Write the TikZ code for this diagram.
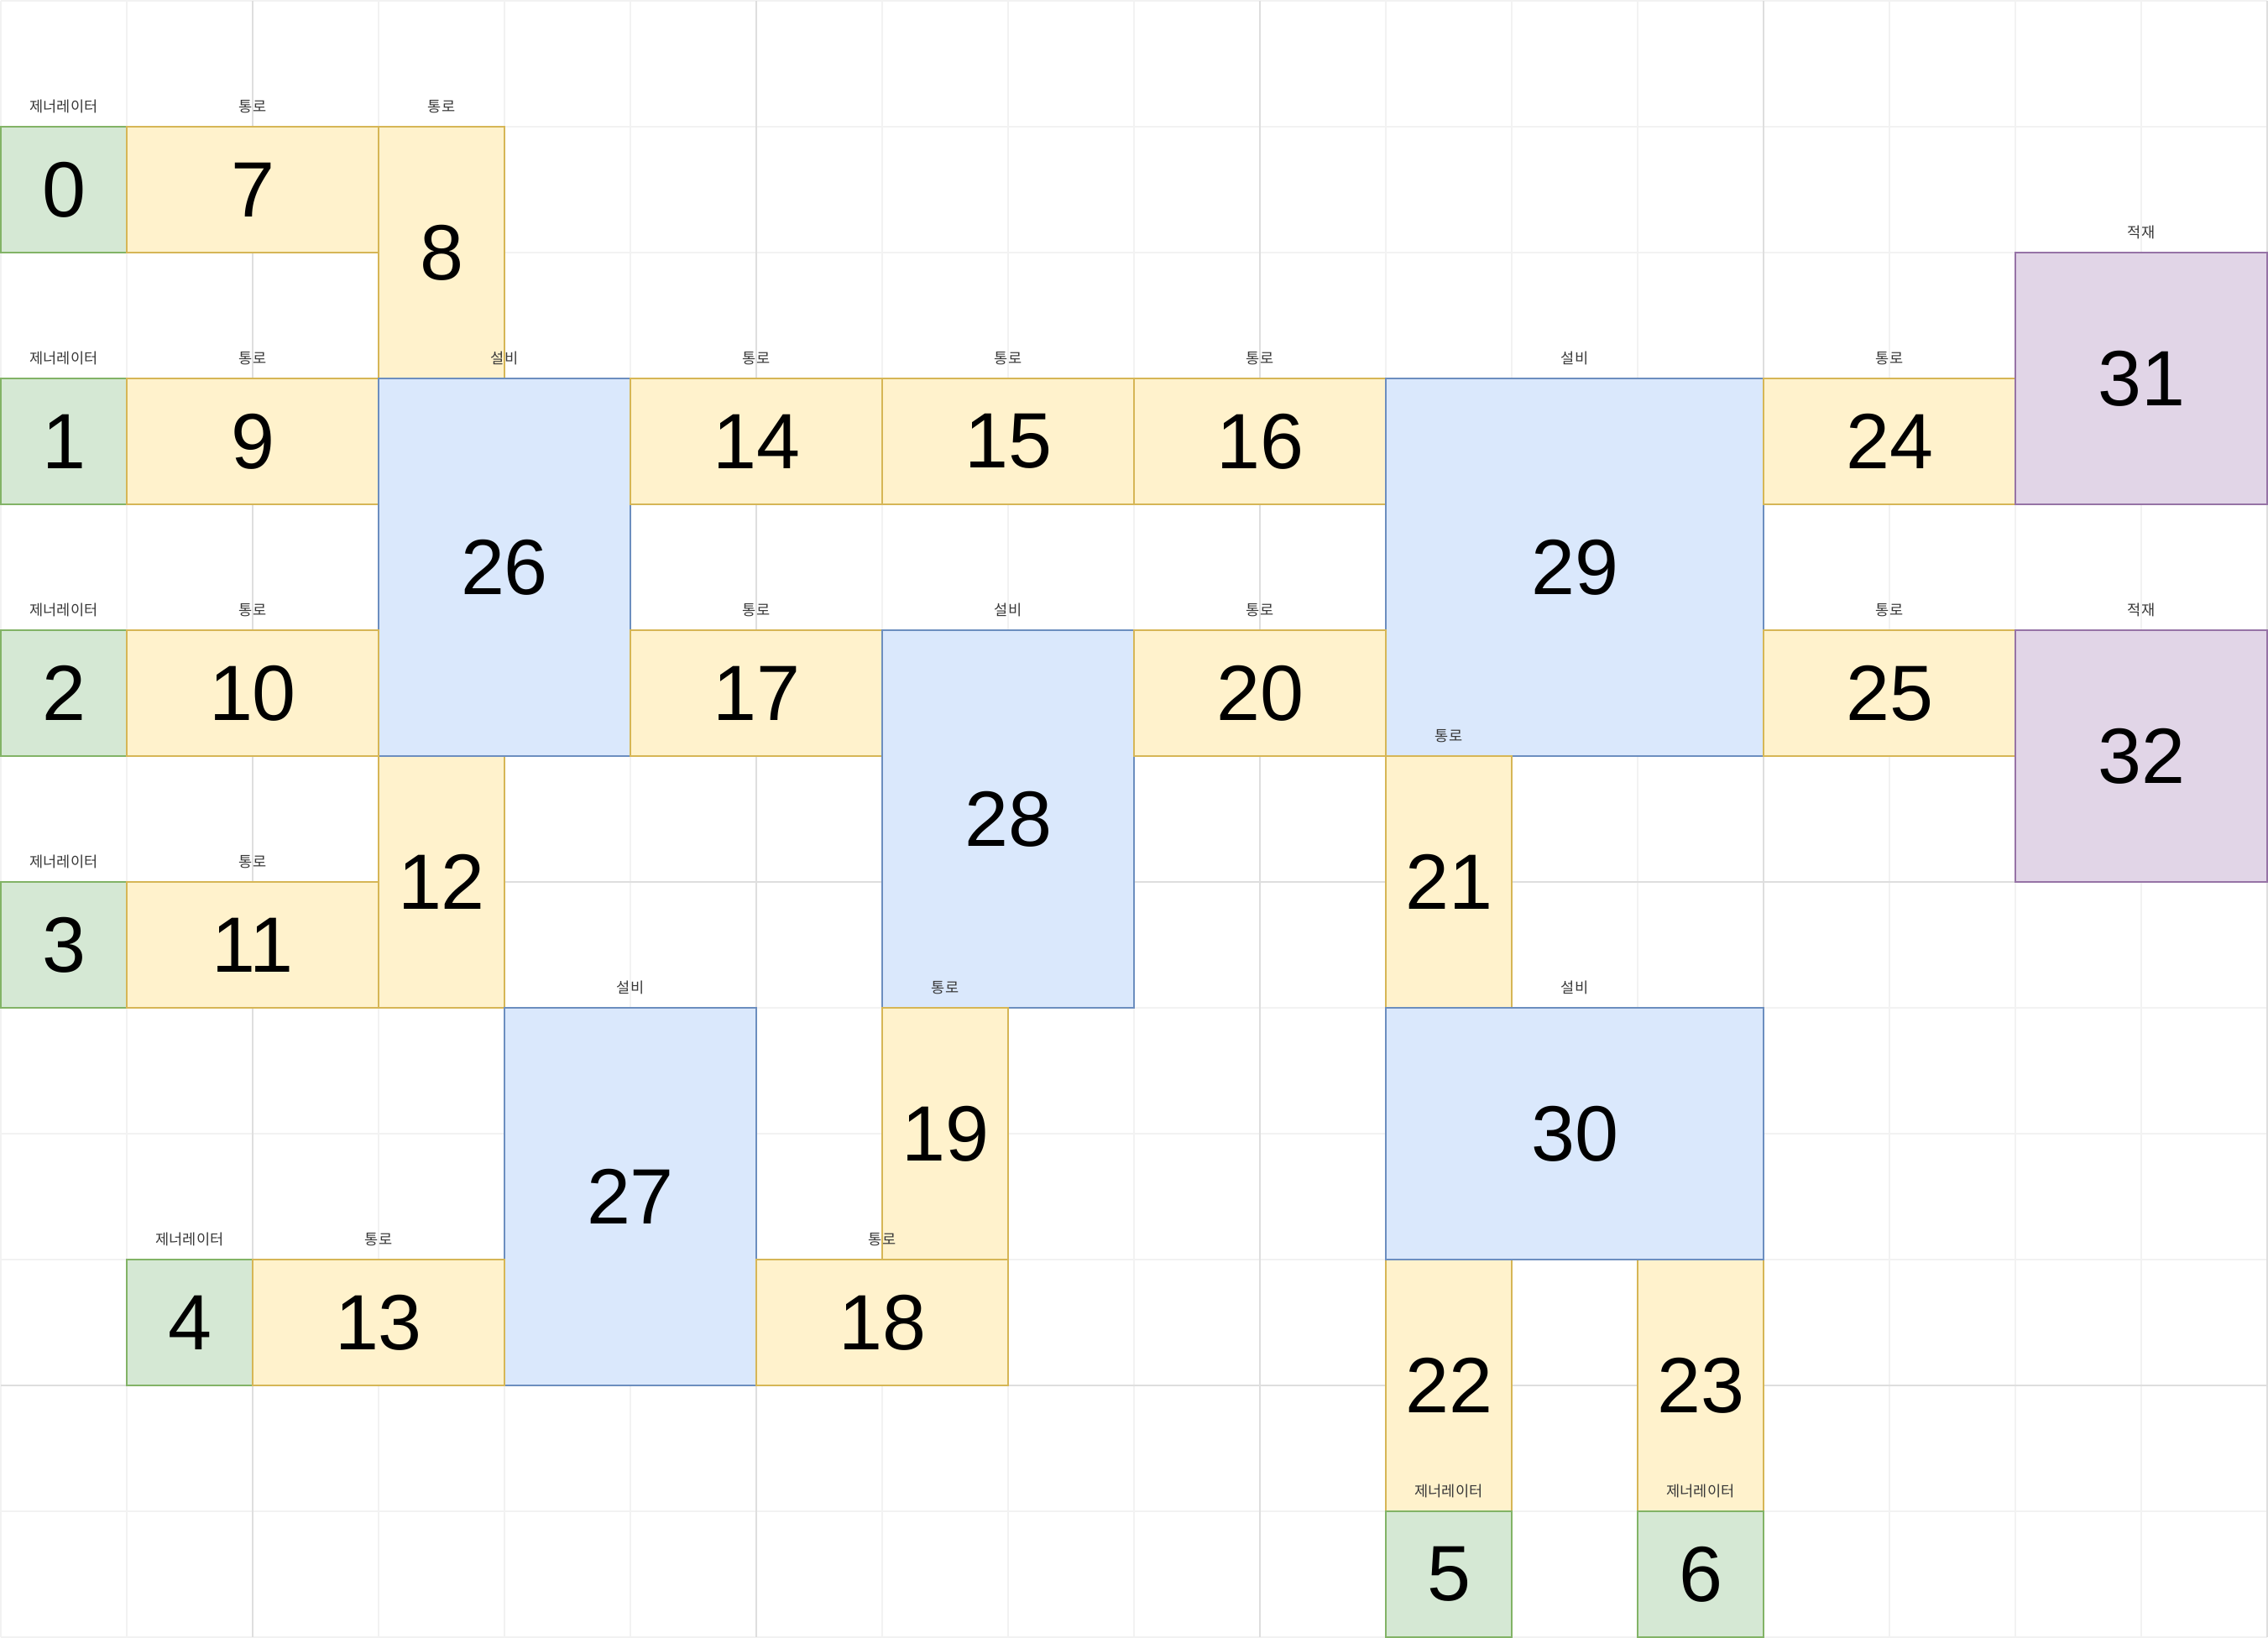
\documentclass[tikz,border=0pt]{standalone}
\usepackage{fontspec}
\setmainfont{Liberation Sans}
\newfontfamily\krfont{Noto Sans CJK KR}
\definecolor{gfill}{HTML}{D5E8D4}\definecolor{gline}{HTML}{82B366}
\definecolor{pfill}{HTML}{FFF2CC}\definecolor{pline}{HTML}{D6B656}
\definecolor{efill}{HTML}{DAE8FC}\definecolor{eline}{HTML}{6C8EBF}
\definecolor{lfill}{HTML}{E1D5E7}\definecolor{lline}{HTML}{9673A6}
\definecolor{minorgrid}{HTML}{F2F2F2}\definecolor{majorgrid}{HTML}{DEDEDE}
\definecolor{lbltext}{HTML}{383838}
\tikzset{
  cell/.style={rectangle, anchor=north west, inner sep=0pt, outer sep=0pt, line width=0.5pt,
    font=\fontsize{26.6}{30}\selectfont},
  gen/.style={cell, draw=gline, fill=gfill},
  pas/.style={cell, draw=pline, fill=pfill},
  eqp/.style={cell, draw=eline, fill=efill},
  lod/.style={cell, draw=lline, fill=lfill},
  w1/.style={minimum width=1.5cm}, w2/.style={minimum width=3cm}, w3/.style={minimum width=4.5cm},
  h1/.style={minimum height=1.5cm}, h2/.style={minimum height=3cm}, h3/.style={minimum height=4.5cm},
  lbl/.style={inner sep=0pt, text=lbltext, font=\krfont\fontsize{5.0}{6}\selectfont},
}
\newcommand\lab[3]{\node[lbl] (#1) at ([yshift=0.24cm]#2.north) {#3};}
\begin{document}
\begin{tikzpicture}[x=1.5cm,y=-1.5cm]
\path[use as bounding box] (-0.00667,-0.00667) rectangle (18.00667,13.00667);
\draw[minorgrid, line width=0.55pt, step=1.5cm] (0,0) grid (18,13);
\foreach \c in {2,6,10,14,18} \draw[majorgrid, line width=0.55pt] (\c,0) -- (\c,13);
\foreach \r in {3,7,11} \draw[majorgrid, line width=0.55pt] (0,\r) -- (18,\r);
% row 1
\node[gen,w1,h1] (b0) at (0,1) {0}; \lab{l0}{b0}{제너레이터}
\node[pas,w2,h1] (b7) at (1,1) {7}; \lab{l7}{b7}{통로}
\node[pas,w1,h2] (b8) at (3,1) {8}; \lab{l8}{b8}{통로}
% row 3
\node[gen,w1,h1] (b1) at (0,3) {1}; \lab{l1}{b1}{제너레이터}
\node[pas,w2,h1] (b9) at (1,3) {9}; \lab{l9}{b9}{통로}
\node[pas,w1,h2] (b12) at (3,6) {12}; \lab{l12}{b12}{통로}
\node[eqp,w2,h3] (b26) at (3,3) {26}; \lab{l26}{b26}{설비}
\node[pas,w2,h1] (b14) at (5,3) {14}; \lab{l14}{b14}{통로}
\node[pas,w2,h1] (b15) at (7,3) {15}; \lab{l15}{b15}{통로}
\node[pas,w2,h1] (b16) at (9,3) {16}; \lab{l16}{b16}{통로}
\node[eqp,w3,h3] (b29) at (11,3) {29}; \lab{l29}{b29}{설비}
\node[pas,w1,h2] (b21) at (11,6) {21}; \lab{l21}{b21}{통로}
\node[pas,w2,h1] (b24) at (14,3) {24}; \lab{l24}{b24}{통로}
\node[lod,w2,h2] (b31) at (16,2) {31}; \lab{l31}{b31}{적재}
% row 5
\node[gen,w1,h1] (b2) at (0,5) {2}; \lab{l2}{b2}{제너레이터}
\node[pas,w2,h1] (b10) at (1,5) {10}; \lab{l10}{b10}{통로}
\node[pas,w2,h1] (b17) at (5,5) {17}; \lab{l17}{b17}{통로}
\node[eqp,w2,h3] (b28) at (7,5) {28}; \lab{l28}{b28}{설비}
\node[pas,w1,h2] (b19) at (7,8) {19}; \lab{l19}{b19}{통로}
\node[pas,w2,h1] (b20) at (9,5) {20}; \lab{l20}{b20}{통로}
\node[pas,w2,h1] (b25) at (14,5) {25}; \lab{l25}{b25}{통로}
\node[lod,w2,h2] (b32) at (16,5) {32}; \lab{l32}{b32}{적재}
% row 7
\node[gen,w1,h1] (b3) at (0,7) {3}; \lab{l3}{b3}{제너레이터}
\node[pas,w2,h1] (b11) at (1,7) {11}; \lab{l11}{b11}{통로}
\node[eqp,w2,h3] (b27) at (4,8) {27}; \lab{l27}{b27}{설비}
\node[pas,w1,h2] (b22) at (11,10) {22}; \lab{l22}{b22}{통로}
\node[pas,w1,h2] (b23) at (13,10) {23}; \lab{l23}{b23}{통로}
\node[eqp,w3,h2] (b30) at (11,8) {30}; \lab{l30}{b30}{설비}
% row 10
\node[gen,w1,h1] (b4) at (1,10) {4}; \lab{l4}{b4}{제너레이터}
\node[pas,w2,h1] (b13) at (2,10) {13}; \lab{l13}{b13}{통로}
\node[pas,w2,h1] (b18) at (6,10) {18}; \lab{l18}{b18}{통로}
\node[gen,w1,h1] (b5) at (11,12) {5}; \lab{l5}{b5}{제너레이터}
\node[gen,w1,h1] (b6) at (13,12) {6}; \lab{l6}{b6}{제너레이터}
\end{tikzpicture}
\end{document}
